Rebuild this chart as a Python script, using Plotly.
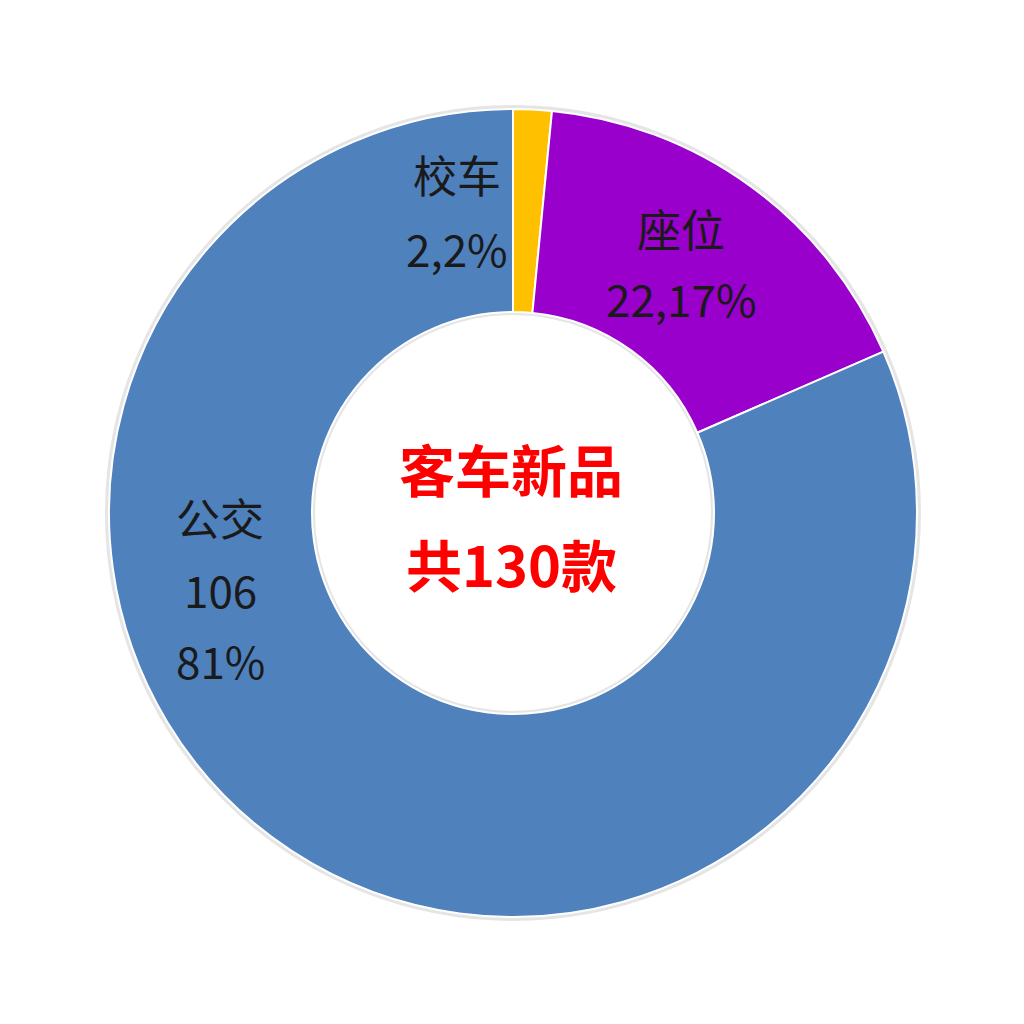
import plotly.graph_objects as go

# slices, clockwise from 12 o'clock
labels = ["校车", "座位", "公交"]
values = [2, 22, 106]
colors = ["#FFC000", "#9900CC", "#4F81BD"]

# label lines as shown on the chart
label_lines = {
    "校车": ["校车", "2,2%"],
    "座位": ["座位", "22,17%"],
    "公交": ["公交", "106", "81%"],
}
center_lines = ["客车新品", "共" + str(sum(values)) + "款"]

# where the label blocks sit (pixels in the 1024 page)
label_pos = {
    "校车": (457, [174, 248]),
    "座位": (681, [228, 298]),
    "公交": (220, [517, 589, 660]),
}
center_pos = (511, [467, 562])

W = 1024
CX, CY, R, R_IN = 513, 513, 404, 201


def px(x):
    return x / W


def py(y):
    return 1 - y / W


fig = go.Figure(go.Pie(
    labels=labels,
    values=values,
    hole=R_IN / R,
    sort=False,
    direction="clockwise",
    rotation=0,
    domain=dict(x=[px(CX - R), px(CX + R)], y=[py(CY + R), py(CY - R)]),
    marker=dict(colors=colors, line=dict(color="white", width=2)),
    textinfo="none",
    hoverinfo="label+value+percent",
    showlegend=False,
))

annotations = []
for name in labels:
    x, ys = label_pos[name]
    for line, y in zip(label_lines[name], ys):
        annotations.append(dict(
            x=px(x), y=py(y), xref="paper", yref="paper",
            text=line, showarrow=False, xanchor="center", yanchor="middle",
            font=dict(family="Noto Sans CJK SC", size=44, color="#1a1a1a"),
        ))
cx, cys = center_pos
for line, y in zip(center_lines, cys):
    annotations.append(dict(
        x=px(cx), y=py(y), xref="paper", yref="paper",
        text="<b>" + line + "</b>", showarrow=False, xanchor="center", yanchor="middle",
        font=dict(family="Noto Sans CJK SC", size=56, color="#FF0000"),
    ))

# faint shadow edges around the ring
shadow = "rgba(0,0,0,0.10)"
shapes = [
    dict(type="circle", xref="paper", yref="paper", layer="below",
         x0=px(CX - R - 2), x1=px(CX + R + 2), y0=py(CY + R + 2), y1=py(CY - R - 2),
         line=dict(color=shadow, width=4)),
    dict(type="circle", xref="paper", yref="paper", layer="below",
         x0=px(CX - R_IN + 1), x1=px(CX + R_IN - 1), y0=py(CY + R_IN - 1), y1=py(CY - R_IN + 1),
         line=dict(color=shadow, width=4)),
]

fig.update_layout(
    width=1024, height=1024,
    margin=dict(l=0, r=0, t=0, b=0),
    paper_bgcolor="white", plot_bgcolor="white",
    annotations=annotations,
    shapes=shapes,
)

fig.write_html("out.html", config={"displayModeBar": False},
               post_script="document.body.style.margin='0';")
